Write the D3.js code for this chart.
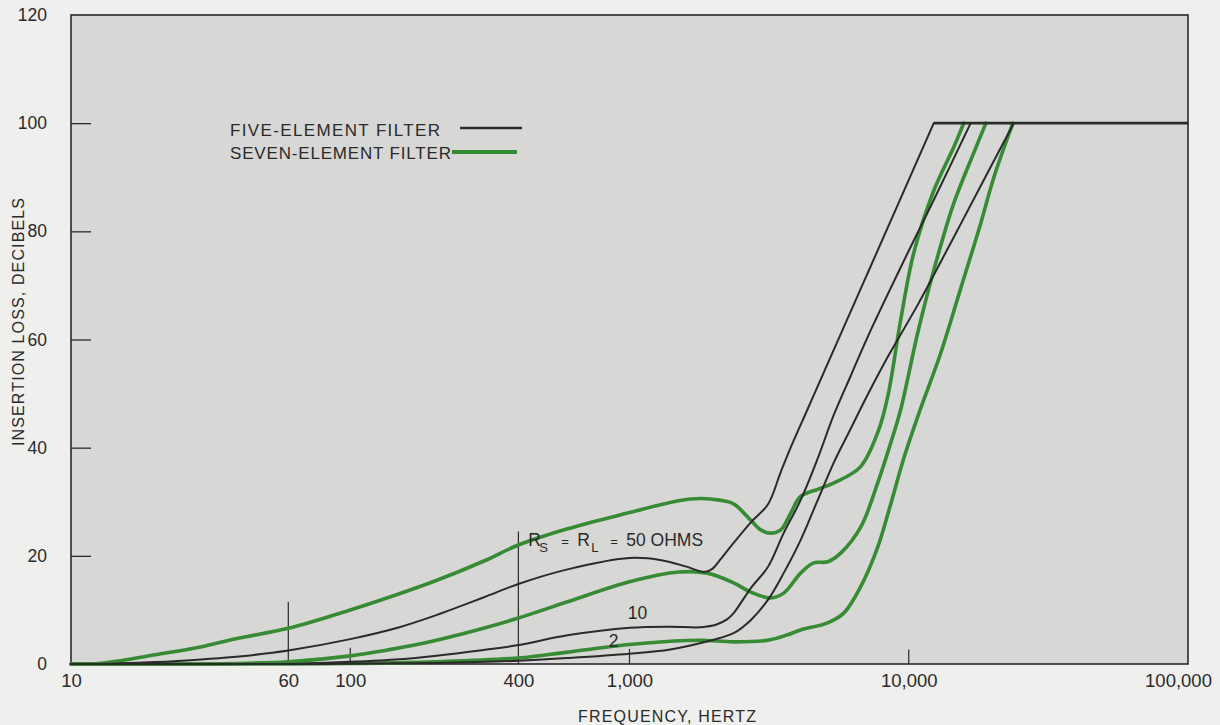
<!DOCTYPE html>
<html>
<head>
<meta charset="utf-8">
<script src="https://cdn.jsdelivr.net/npm/d3@7"></script>
<style>
  html, body { margin: 0; padding: 0; background: #efefed; }
  svg { display: block; }
  text { font-family: "Liberation Sans", Arial, sans-serif; fill: #2a2a2a; }
</style>
</head>
<body>
<svg id="chart" width="1220" height="725"></svg>
<script>
// ---------------- DATA ----------------
const freqTicks  = [10, 60, 100, 400, 1000, 10000, 100000];
const freqLabels = ["10", "60", "100", "400", "1,000", "10,000", "100,000"];
const tickReachDb = [0, 11.5, 3, 24.5, 2.8, 2.7, 0];   // how high each frequency tick line reaches
const dbTicks = [0, 20, 40, 60, 80, 100, 120];
const dbLabels = ["0", "20", "40", "60", "80", "100", "120"];

// Five-element filter (black), [frequency Hz, insertion loss dB]
const five50 = [[10,0],[14,0.05],[20,0.35],[30,0.9],[40,1.4],[60,2.5],[100,4.6],[150,6.8],[200,8.9],[300,12.3],
  [400,14.8],[600,17.5],[1000,19.6],[1300,19.2],[1600,18],[1850,17],[1980,17.6],[2120,19.4],[2360,22.4],
  [2720,26.2],[3130,29.5],[3480,35.5],[3776,40],[4350,47.2],[5000,54.3],[7130,72.3],[12290,100]];
const five10 = [[10,0],[50,0],[70,0.1],[100,0.4],[150,0.9],[200,1.5],[300,2.6],[400,3.5],[600,5.3],[1000,6.7],
  [1400,6.9],[1800,6.8],[2050,7.3],[2240,8.3],[2360,9.4],[2716,14],[3126,17.9],[3565,24.2],[4100,30.3],
  [4720,38],[5385,46],[6200,53.3],[7129,60.5],[9911,76],[12290,85.8],[16665,100]];
const five2 = [[10,0],[80,0],[100,0.05],[200,0.2],[400,0.6],[600,1.1],[1000,1.9],[1400,2.7],[1800,3.9],
  [2359,5.7],[2716,8.1],[3126,11.8],[3565,16.8],[4100,22.9],[4720,30.3],[5385,37.2],[6196,43.5],[7000,49],
  [8414,56.8],[10765,66.4],[14152,77.9],[18569,89.5],[23770,100]];

// Seven-element filter (green)
const seven50 = [[10,0],[12,0],[15,0.6],[20,1.7],[30,3.3],[40,4.8],[60,6.6],[100,10],[150,13],[200,15.3],
  [300,19],[400,22],[600,25],[1000,28],[1500,30.2],[1800,30.6],[2100,30.3],[2360,29.6],[2716,26.6],[2950,24.8],
  [3200,24.2],[3480,24.8],[3777,27.9],[4100,31],[4720,32.3],[5400,33.5],[6700,36.4],[7770,43],[8414,49.5],
  [9354,63.6],[10420,76],[12290,87.5],[14500,95.6],[15740,100]];
const seven10 = [[10,0],[30,0],[40,0.1],[60,0.4],[100,1.5],[150,3],[200,4.3],[300,6.6],[400,8.5],[600,11.5],
  [1000,15.2],[1500,17],[1900,16.8],[2359,15],[2716,13.3],[3200,12.2],[3565,13.1],[4100,16.8],[4563,18.7],
  [5124,18.9],[5705,20.5],[6729,25.3],[7742,33.5],[8610,40.8],[9354,47],[10765,61.2],[12290,72.8],[14500,85.2],
  [17088,94.5],[18900,100]];
const seven2 = [[10,0],[60,0],[100,0.1],[200,0.4],[400,1.1],[600,2.2],[1000,3.6],[1400,4.2],[1800,4.4],
  [2359,4.1],[3126,4.4],[3683,5.4],[4100,6.3],[5124,7.6],[5849,9.4],[6729,14.3],[7742,21.6],[8610,29.5],
  [9594,38],[10900,46.5],[13021,57.5],[15361,69.5],[18109,81.5],[20180,90],[23600,100]];

// Flat 100 dB ceiling
const ceiling = [[12290,100],[100000,100]];

const legendLabels = ["FIVE-ELEMENT FILTER", "SEVEN-ELEMENT FILTER"];
const curveLabels = ["10", "2"];

// ---------------- DRAWING ----------------
const svg = d3.select("#chart");
const L = 71, R = 1188, T = 15, B = 664;
const x = d3.scaleLog().domain([10, 100000]).range([L, R]);
const y = d3.scaleLinear().domain([0, 120]).range([B, T]);

const BLACK = "#2a2a2a", GREEN = "#388b35";

// plot background
svg.append("rect").attr("x", L).attr("y", T).attr("width", R - L).attr("height", B - T)
  .attr("fill", "#d7d7d5");

// frame
svg.append("rect").attr("x", L).attr("y", T).attr("width", R - L).attr("height", B - T)
  .attr("fill", "none").attr("stroke", BLACK).attr("stroke-width", 1.6);

// y axis ticks and labels
const yAxis = d3.axisLeft(y).tickValues(dbTicks).tickSize(-20).tickPadding(24)
  .tickFormat((d, i) => dbLabels[i]);
const gy = svg.append("g").attr("transform", `translate(${L},0)`).call(yAxis);
gy.select(".domain").remove();
gy.selectAll(".tick line").attr("stroke", BLACK).attr("stroke-width", 1.3);
gy.selectAll(".tick text").attr("font-size", 17.5).attr("fill", BLACK)
  .attr("font-family", "Liberation Sans, Arial, sans-serif");
gy.selectAll(".tick").filter(d => d === 0 || d === 120).select("line").remove();

// x axis labels
const xAxis = d3.axisBottom(x).tickValues(freqTicks).tickSize(0).tickPadding(10)
  .tickFormat((d, i) => freqLabels[i]);
const gx = svg.append("g").attr("transform", `translate(0,${B})`).call(xAxis);
gx.select(".domain").remove();
gx.selectAll(".tick text").attr("font-size", 18.5).attr("fill", BLACK)
  .attr("font-family", "Liberation Sans, Arial, sans-serif")
  .attr("dx", d => d === 100000 ? -10 : 0);

// frequency tick lines
svg.append("g").selectAll("line").data(freqTicks.map((f, i) => [f, tickReachDb[i]]).filter(d => d[1] > 0))
  .join("line")
  .attr("x1", d => x(d[0])).attr("x2", d => x(d[0]))
  .attr("y1", y(0)).attr("y2", d => y(d[1]))
  .attr("stroke", BLACK).attr("stroke-width", 1.2);

// curves
const line = d3.line().x(d => x(d[0])).y(d => y(d[1])).curve(d3.curveCatmullRom.alpha(0.5));
const greens = [seven50, seven10, seven2];
const blacks = [five50, five10, five2];
svg.append("g").selectAll("path").data(greens).join("path")
  .attr("d", line).attr("fill", "none").attr("stroke", GREEN).attr("stroke-width", 3.6)
  .attr("stroke-linejoin", "round").attr("stroke-linecap", "round");
svg.append("g").selectAll("path").data(blacks).join("path")
  .attr("d", line).attr("fill", "none").attr("stroke", BLACK).attr("stroke-width", 2)
  .attr("stroke-linejoin", "round").attr("stroke-linecap", "round");
svg.append("path").datum(ceiling).attr("d", d3.line().x(d => x(d[0])).y(d => y(d[1])))
  .attr("fill", "none").attr("stroke", BLACK).attr("stroke-width", 2.8);

// legend
const lg = svg.append("g");
lg.append("text").attr("x", 230).attr("y", 136).attr("font-size", 17)
  .attr("textLength", 210).attr("lengthAdjust", "spacing").text(legendLabels[0]);
lg.append("line").attr("x1", 460).attr("x2", 522).attr("y1", 128).attr("y2", 128)
  .attr("stroke", BLACK).attr("stroke-width", 2.6);
lg.append("text").attr("x", 230).attr("y", 159).attr("font-size", 17)
  .attr("textLength", 221).attr("lengthAdjust", "spacing").text(legendLabels[1]);
lg.append("line").attr("x1", 452).attr("x2", 517).attr("y1", 152).attr("y2", 152)
  .attr("stroke", GREEN).attr("stroke-width", 4);

// annotation R_S = R_L = 50 OHMS
const ax0 = x(434), ay0 = y(21.8);
const ann = svg.append("text").attr("x", ax0).attr("y", ay0).attr("font-size", 17.5);
ann.append("tspan").attr("x", ax0).text("R");
ann.append("tspan").attr("x", ax0 + 11).attr("dy", 6).attr("font-size", 13).text("S");
ann.append("tspan").attr("x", ax0 + 33).attr("dy", -6).attr("font-size", 13).text("=");
ann.append("tspan").attr("x", ax0 + 49).attr("font-size", 17.5).text("R");
ann.append("tspan").attr("x", ax0 + 63).attr("dy", 6).attr("font-size", 13).text("L");
ann.append("tspan").attr("x", ax0 + 82).attr("dy", -6).attr("font-size", 13).text("=");
ann.append("tspan").attr("x", ax0 + 98).attr("font-size", 17.5).text("50 OHMS");

svg.append("text").attr("x", x(1068)).attr("y", y(8.4)).attr("font-size", 17.5)
  .attr("text-anchor", "middle").text(curveLabels[0]);
svg.append("text").attr("x", x(877)).attr("y", y(3.2)).attr("font-size", 17.5)
  .attr("text-anchor", "middle").text(curveLabels[1]);

// axis titles
svg.append("text").attr("x", 667).attr("y", 722).attr("font-size", 16)
  .attr("text-anchor", "middle").attr("textLength", 178).attr("lengthAdjust", "spacing")
  .text("FREQUENCY, HERTZ");
svg.append("text").attr("transform", "translate(24,322) rotate(-90)").attr("font-size", 16)
  .attr("text-anchor", "middle").attr("textLength", 248).attr("lengthAdjust", "spacing")
  .text("INSERTION LOSS, DECIBELS");
</script>
</body>
</html>
